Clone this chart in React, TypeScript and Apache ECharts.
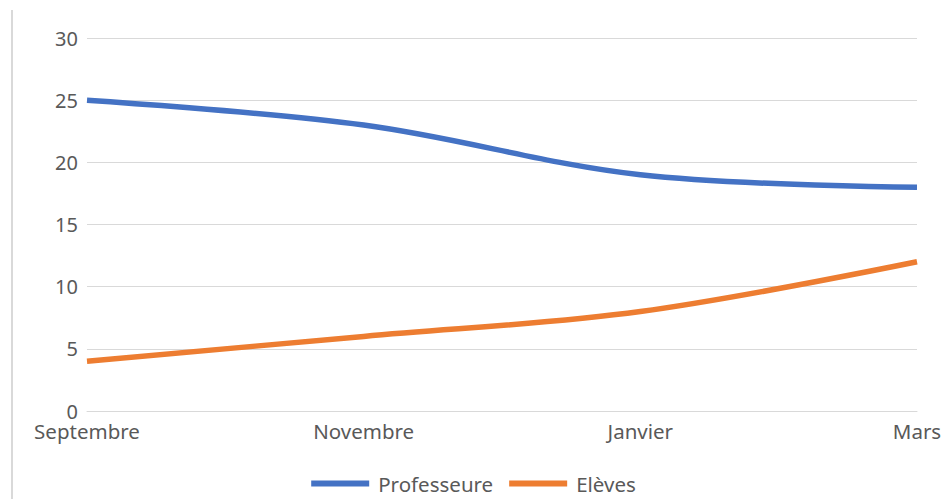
import React, { useEffect, useRef } from "react";
import * as echarts from "echarts";

const categories = ["Septembre", "Novembre", "Janvier", "Mars"];
const professeure = [25, 23, 19, 18];
const eleves = [4, 6, 8, 12];
const seriesNames = ["Professeure", "Elèves"];

export default function App() {
  const ref = useRef<HTMLDivElement>(null);
  useEffect(() => {
    if (!ref.current) return;
    const chart = echarts.init(ref.current, null, { renderer: "svg" });
    const font = "'Noto Sans', 'Open Sans', sans-serif";
    chart.setOption({
      animation: false,
      backgroundColor: "#ffffff",
      textStyle: { fontFamily: font },
      grid: { left: 87, right: 30, top: 38, bottom: 88, containLabel: false },
      legend: {
        bottom: 0,
        left: "center",
        itemWidth: 58,
        itemHeight: 6,
        itemGap: 16,
        icon: "rect",
        textStyle: { color: "#595959", fontSize: 20.5, fontFamily: font, padding: [0, 0, 0, 4] },
        data: seriesNames,
      },
      graphic: [
        {
          type: "line",
          shape: { x1: 12, y1: 10, x2: 12, y2: 499 },
          style: { stroke: "#d9d9d9", lineWidth: 2 },
        },
      ],
      xAxis: {
        type: "category",
        data: categories,
        boundaryGap: false,
        axisLine: { show: true, lineStyle: { color: "#d9d9d9", width: 1 } },
        axisTick: { show: false },
        axisLabel: { color: "#595959", fontSize: 20.5, margin: 9, fontFamily: font, interval: 0 },
      },
      yAxis: {
        type: "value",
        min: 0,
        max: 30,
        interval: 5,
        axisLine: { show: false },
        axisTick: { show: false },
        splitLine: { lineStyle: { color: "#d9d9d9", width: 1 } },
        axisLabel: { color: "#595959", fontSize: 20, margin: 9, fontFamily: font },
      },
      series: [
        {
          name: seriesNames[0],
          type: "line",
          data: professeure,
          smooth: 0.35,
          showSymbol: false,
          lineStyle: { color: "#4472C4", width: 5.5 },
          itemStyle: { color: "#4472C4" },
        },
        {
          name: seriesNames[1],
          type: "line",
          data: eleves,
          smooth: 0.35,
          showSymbol: false,
          lineStyle: { color: "#ED7D31", width: 5.5 },
          itemStyle: { color: "#ED7D31" },
        },
      ],
    });
    return () => chart.dispose();
  }, []);
  return (
    <div
      ref={ref}
      style={{ position: "fixed", left: 0, top: 0, width: 947, height: 499 }}
    />
  );
}
